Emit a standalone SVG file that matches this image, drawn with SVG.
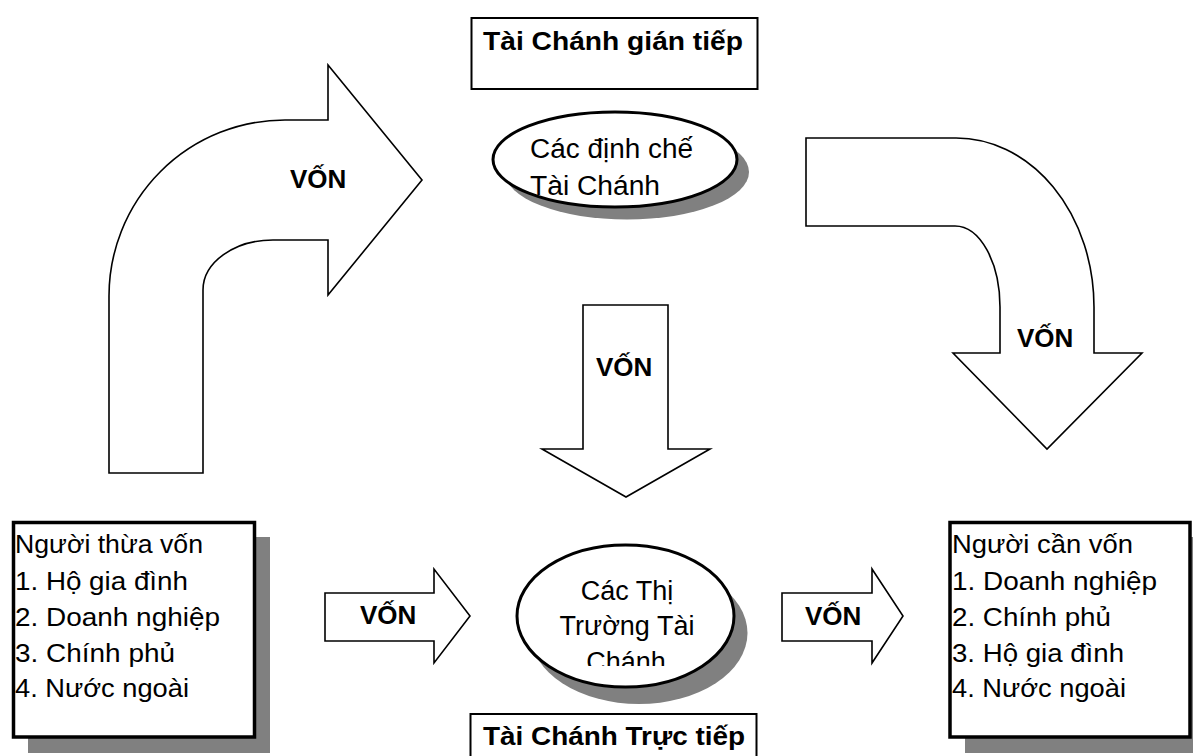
<svg xmlns="http://www.w3.org/2000/svg" width="1193" height="756" viewBox="0 0 1193 756">
<style>
text{font-family:"Liberation Sans",Arial,Helvetica,sans-serif;fill:#000}
.lbl{font-weight:bold;font-size:25px}
.von{font-weight:bold;font-size:26px}
.lst{font-size:25px}
.ell{font-size:27px}
.arrow{fill:#fff;stroke:#000;stroke-width:1.6;stroke-linejoin:miter}
.box{fill:#fff;stroke:#000;stroke-width:3.5}
.tbox{fill:#fff;stroke:#000;stroke-width:2}
.shadow{fill:#808080}
.oval{fill:#fff;stroke:#000;stroke-width:3}
</style>
<defs>
<clipPath id="clipMk"><rect x="520" y="560" width="210" height="106"/></clipPath>
</defs>
<rect width="1193" height="756" fill="#fff"/>

<g id="connectors">
<path class="arrow" d="M109,473 L109,296 A176,176 0 0 1 285,120 L328,120 L328,65 L422,180 L328,295 L328,240 L273,240 A70,50 0 0 0 203,290 L203,473 Z"/>
<text class="von" x="290" y="188">VỐN</text>
<path class="arrow" d="M806,138 L955,138 A138,169 0 0 1 1094,307 L1094,353 L1142,353 L1047,449 L953,353 L1000,353 L1000,307 A45,81 0 0 0 955,226 L806,226 Z"/>
<text class="von" x="1017" y="347">VỐN</text>
<path class="arrow" d="M583,305 L668,305 L668,449 L710,449 L626,497 L542,449 L583,449 Z"/>
<text class="von" x="596" y="376">VỐN</text>
<path class="arrow" d="M325,593 L434,593 L434,569 L470,616 L434,663 L434,641 L325,641 Z"/>
<text class="von" x="360" y="624">VỐN</text>
<path class="arrow" d="M782,593 L872,593 L872,569 L903,616 L872,663 L872,641 L782,641 Z"/>
<text class="von" x="805" y="625">VỐN</text>
</g>

<g id="gian-tiep">
<rect class="tbox" x="471.5" y="18" width="286" height="71"/>
<text class="lbl" x="483" y="50" textLength="260" lengthAdjust="spacingAndGlyphs">Tài Chánh gián tiếp</text>
</g>

<g id="dinh-che">
<ellipse class="shadow" cx="627" cy="172" rx="122" ry="47.5"/>
<ellipse class="oval" cx="615" cy="159.5" rx="122" ry="47.5"/>
<text class="ell" x="530" y="158" textLength="163" lengthAdjust="spacingAndGlyphs">Các định chế</text>
<text class="ell" x="530" y="195" textLength="130" lengthAdjust="spacingAndGlyphs">Tài Chánh</text>
</g>

<g id="thi-truong">
<ellipse class="shadow" cx="639" cy="633" rx="108.5" ry="71"/>
<ellipse class="oval" cx="625.5" cy="616" rx="108.5" ry="71"/>
<g clip-path="url(#clipMk)">
<text class="ell" x="627" y="599.5" text-anchor="middle">Các Thị</text>
<text class="ell" x="627" y="635" text-anchor="middle">Trường Tài</text>
<text class="ell" x="626" y="671" text-anchor="middle">Chánh</text>
</g>
</g>

<g id="truc-tiep">
<rect class="tbox" x="470.5" y="714" width="286" height="60"/>
<text class="lbl" x="483" y="745" textLength="262" lengthAdjust="spacingAndGlyphs">Tài Chánh Trực tiếp</text>
</g>

<g id="nguoi-thua-von">
<rect class="shadow" x="28" y="537" width="242" height="216"/>
<rect class="box" x="13.5" y="522.5" width="241" height="214.5"/>
<text class="lst" x="15" y="553" textLength="188" lengthAdjust="spacingAndGlyphs">Người thừa vốn</text>
<text class="lst" x="15" y="590" textLength="173" lengthAdjust="spacingAndGlyphs">1. Hộ gia đình</text>
<text class="lst" x="15" y="625.5" textLength="205" lengthAdjust="spacingAndGlyphs">2. Doanh nghiệp</text>
<text class="lst" x="15" y="661.5" textLength="160" lengthAdjust="spacingAndGlyphs">3. Chính phủ</text>
<text class="lst" x="15" y="697" textLength="174" lengthAdjust="spacingAndGlyphs">4. Nước ngoài</text>
</g>

<g id="nguoi-can-von">
<rect class="shadow" x="965" y="537" width="242" height="216"/>
<rect class="box" x="950" y="522.5" width="240" height="214.5"/>
<text class="lst" x="952" y="553" textLength="181" lengthAdjust="spacingAndGlyphs">Người cần vốn</text>
<text class="lst" x="952" y="590" textLength="205" lengthAdjust="spacingAndGlyphs">1. Doanh nghiệp</text>
<text class="lst" x="952" y="625.5" textLength="159" lengthAdjust="spacingAndGlyphs">2. Chính phủ</text>
<text class="lst" x="952" y="661.5" textLength="172" lengthAdjust="spacingAndGlyphs">3. Hộ gia đình</text>
<text class="lst" x="952" y="697" textLength="174" lengthAdjust="spacingAndGlyphs">4. Nước ngoài</text>
</g>
</svg>
